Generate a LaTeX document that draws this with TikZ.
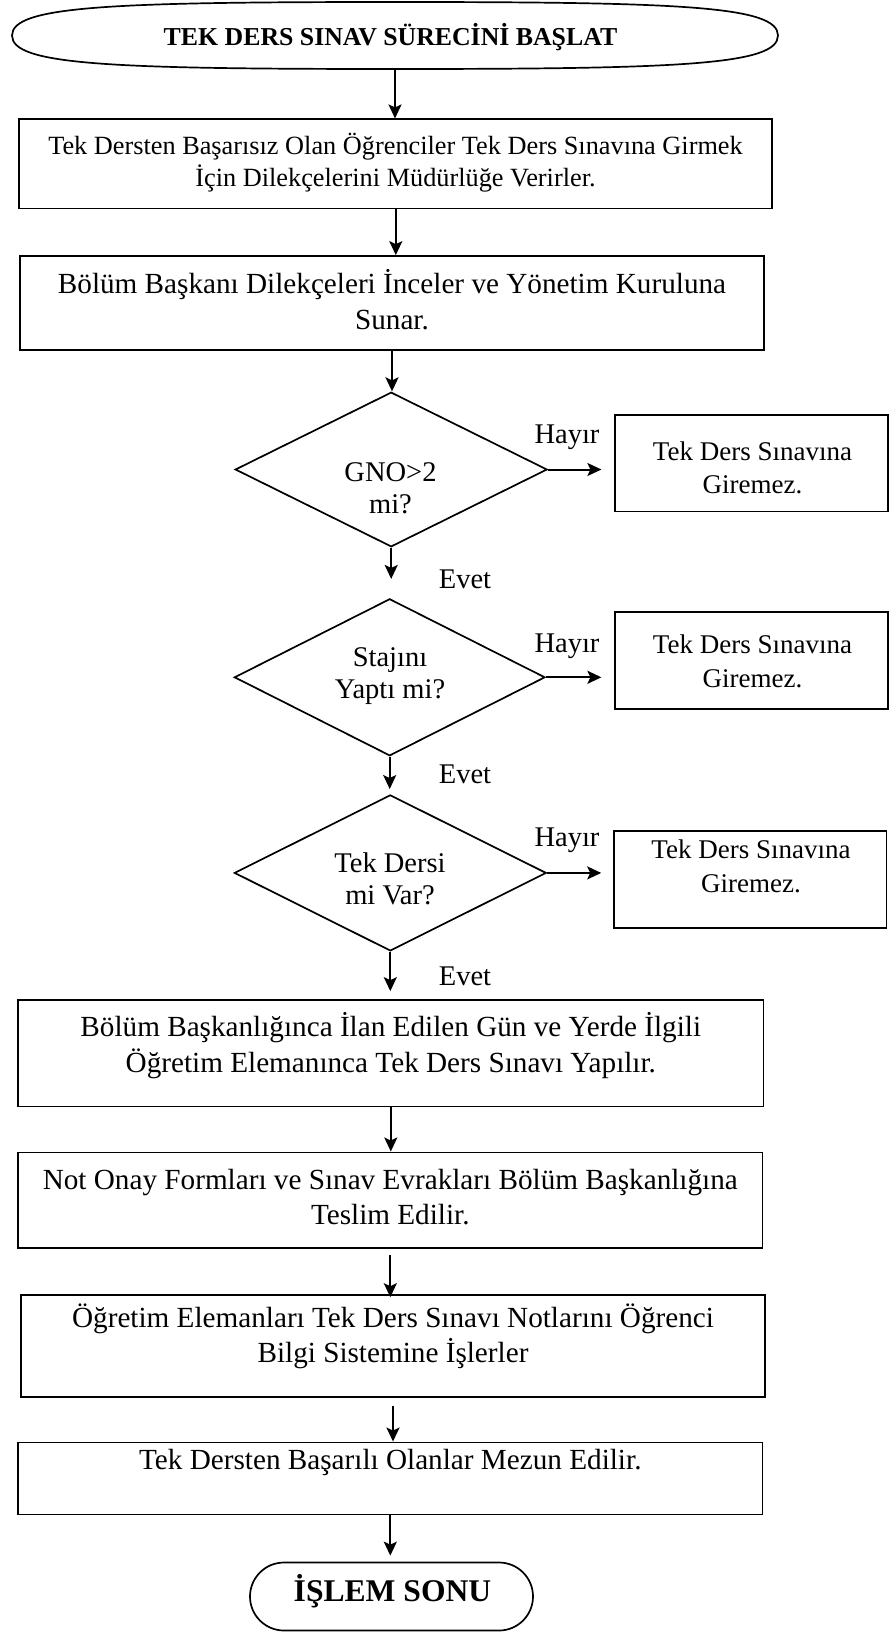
\documentclass[tikz,border=0pt]{standalone}
\usepackage{fontspec}
\setmainfont{Liberation Serif}
\usetikzlibrary{shapes.geometric,arrows.meta}

\tikzset{every picture/.style={line width=0.85pt}}
\tikzset{
  box/.style={draw, rectangle, inner sep=0pt},
  ask/.style={draw, diamond, aspect=2, inner sep=0pt},
  txt/.style={inner sep=0pt, align=center},
  flow/.style={line width=1pt, -{Stealth[length=7pt,width=6.5pt,inset=1.5pt]}},
}
\newcommand{\fsTitle}{\fontsize{12.9}{15}\selectfont\bfseries}
\newcommand{\fsFirst}{\fontsize{13.15}{15.9}\selectfont}
\newcommand{\fsBox}{\fontsize{14.6}{17.7}\selectfont}
\newcommand{\fsNo}{\fontsize{13.5}{16.8}\selectfont}
\newcommand{\fsAsk}{\fontsize{14.25}{15.9}\selectfont}
\newcommand{\fsEnd}{\fontsize{15.8}{18}\selectfont\bfseries}

\begin{document}
\begin{tikzpicture}[x=0.5pt,y=0.5pt,yscale=-1,xscale=1]
\useasboundingbox (0,0) rectangle (889,1632);

%Shape: Terminal [start]
\node[inner sep=0pt, minimum width=383pt, minimum height=33.5pt] (start) at (395,35.5) {};
\draw (12,35.5) .. controls (12,6) and (110,2) .. (395,2) .. controls (680,2) and (778,6) .. (778,35.5) .. controls (778,65) and (680,69) .. (395,69) .. controls (110,69) and (12,65) .. (12,35.5) -- cycle ;
%Shape: Rectangle
\node[box, minimum width=376.5pt, minimum height=44.6pt] (petition) at (395.8,163.9) {};
%Shape: Rectangle
\node[box, minimum width=372pt, minimum height=47pt] (review) at (392,303) {};
%Shape: Diamond
\node[ask, minimum width=156pt, minimum height=77.3pt] (gno) at (391.2,469.5) {};
%Shape: Rectangle
\node[box, minimum width=136.25pt, minimum height=48.2pt] (no1) at (751.5,463.4) {};
%Shape: Diamond
\node[ask, minimum width=155.35pt, minimum height=78.5pt] (intern) at (389.7,677.3) {};
%Shape: Rectangle
\node[box, minimum width=136.25pt, minimum height=48.55pt] (no2) at (751.5,660.5) {};
%Shape: Diamond
\node[ask, minimum width=156pt, minimum height=78pt] (single) at (390.3,872.9) {};
%Shape: Rectangle
\node[box, minimum width=136.15pt, minimum height=48.6pt] (no3) at (750.2,879.4) {};
%Shape: Rectangle
\node[box, minimum width=372.75pt, minimum height=53.3pt] (exam) at (390.8,1053.3) {};
%Shape: Rectangle
\node[box, minimum width=372.3pt, minimum height=47.85pt] (forms) at (390.3,1200.2) {};
%Shape: Rectangle
\node[box, minimum width=371.9pt, minimum height=50.85pt] (grades) at (393,1345.9) {};
%Shape: Rectangle
\node[box, minimum width=372.3pt, minimum height=36.1pt] (grad) at (390.3,1478.5) {};
%Shape: Terminal [end]
\node[box, rounded corners=17pt, minimum width=141.5pt, minimum height=34pt] (finish) at (391.5,1596.5) {};

%Straight Lines [id:arrows]
\draw[flow] (start.south) -- (start.south |- petition.north) ;
\draw[flow] (petition.south) -- (petition.south |- review.north) ;
\draw[flow] (review.south) -- (review.south |- gno.north) ;
\draw[flow, shorten >=9.5pt] (gno.south) -- (gno.south |- intern.north) ;
\draw[flow, shorten >=2.5pt] (intern.south) -- (intern.south |- single.north) ;
\draw[flow, shorten >=4pt] (single.south) -- (single.south |- exam.north) ;
\draw[flow] (exam.south) -- (exam.south |- forms.north) ;
\draw[flow, shorten <=3.25pt, shorten >=-1.5pt] (forms.south) -- (forms.south |- grades.north) ;
\draw[flow, shorten <=4pt] (grades.south) -- (grades.south |- grad.north) ;
\draw[flow, shorten >=3pt] (grad.south) -- (grad.south |- finish.north) ;
\draw[flow, shorten >=6.5pt] (gno.east) -- (gno.east -| no1.west) ;
\draw[flow, shorten >=6.5pt] (intern.east) -- (intern.east -| no2.west) ;
\draw[flow, shorten >=6pt] (single.east) -- (single.east -| no3.west) ;

% Text Node
\node[txt, anchor=base, font=\fsTitle] (startTxt) at (390.5,45.7) {TEK DERS SINAV SÜRECİNİ BAŞLAT};
% Text Node
\node[txt, font=\fsFirst] (petitionTxt) at (395.5,162.3) {Tek Dersten Başarısız Olan Öğrenciler Tek Ders Sınavına Girmek\\İçin Dilekçelerini Müdürlüğe Verirler.};
% Text Node
\node[txt, font=\fsBox] (reviewTxt) at (392,299.5) {Bölüm Başkanı Dilekçeleri İnceler ve Yönetim Kuruluna\\Sunar.};
% Text Node
\node[txt, font=\fsAsk] (gnoTxt) at (390.5,488) {GNO>2\\mi?};
% Text Node
\node[txt, font=\fsNo] (no1Txt) at (752.5,468) {Tek Ders Sınavına\\Giremez.};
% Text Node
\node[txt, font=\fsAsk] (internTxt) at (390,676) {Stajını\\Yaptı mi?};
% Text Node
\node[txt, font=\fsNo] (no2Txt) at (752.5,661.5) {Tek Ders Sınavına\\Giremez.};
% Text Node
\node[txt, font=\fsAsk] (singleTxt) at (390,879) {Tek Dersi\\mi Var?};
% Text Node
\node[txt, font=\fsNo] (no3Txt) at (751,866.5) {Tek Ders Sınavına\\Giremez.};
% Text Node
\node[txt, font=\fsBox] (examTxt) at (390.8,1045.5) {Bölüm Başkanlığınca İlan Edilen Gün ve Yerde İlgili\\Öğretim Elemanınca Tek Ders Sınavı Yapılır.};
% Text Node
\node[txt, font=\fsBox] (formsTxt) at (390.3,1197) {Not Onay Formları ve Sınav Evrakları Bölüm Başkanlığına\\Teslim Edilir.};
% Text Node
\node[txt, font=\fsBox] (gradesTxt) at (393,1336.5) {Öğretim Elemanları Tek Ders Sınavı Notlarını Öğrenci\\Bilgi Sistemine İşlerler};
% Text Node
\node[txt, anchor=base, font=\fsBox] (gradTxt) at (390.3,1469.6) {Tek Dersten Başarılı Olanlar Mezun Edilir.};
% Text Node
\node[txt, anchor=base, font=\fsEnd] (finishTxt) at (392.5,1601.7) {İŞLEM SONU};
% Text Node
\node[txt, anchor=base, font=\fsAsk] (hayir1) at (567,443.3) {Hayır};
% Text Node
\node[txt, anchor=base, font=\fsAsk] (hayir2) at (567,652) {Hayır};
% Text Node
\node[txt, anchor=base, font=\fsAsk] (hayir3) at (567,846) {Hayır};
% Text Node
\node[txt, anchor=base, font=\fsAsk] (evet1) at (465,588.8) {Evet};
% Text Node
\node[txt, anchor=base, font=\fsAsk] (evet2) at (465,783.2) {Evet};
% Text Node
\node[txt, anchor=base, font=\fsAsk] (evet3) at (465,985.3) {Evet};

\end{tikzpicture}
\end{document}
